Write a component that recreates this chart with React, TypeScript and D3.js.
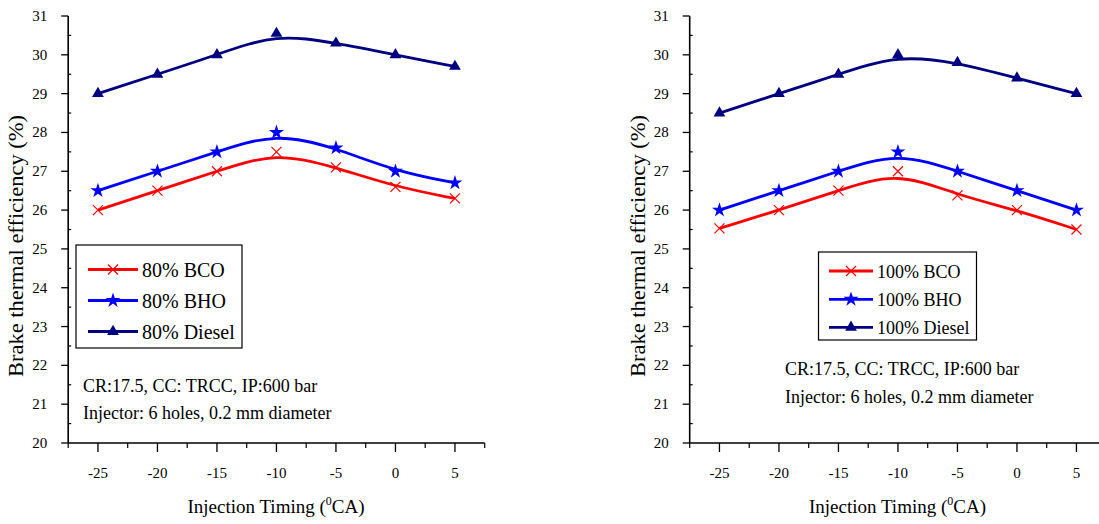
import React from "react";
import * as d3 from "d3";

const timings = [-25, -20, -15, -10, -5, 0, 5];
const xTickValues = [-25, -20, -15, -10, -5, 0, 5];
const yTickValues = [20, 21, 22, 23, 24, 25, 26, 27, 28, 29, 30, 31];

const bco80 = [26.0, 26.5, 27.0, 27.5, 27.1, 26.6, 26.3];
const bho80 = [26.5, 27.0, 27.5, 28.0, 27.6, 27.0, 26.7];
const diesel80 = [29.0, 29.5, 30.0, 30.55, 30.3, 30.0, 29.7];

const bco100 = [25.53, 26.0, 26.5, 27.0, 26.38, 26.0, 25.5];
const bho100 = [26.0, 26.5, 27.0, 27.5, 27.0, 26.5, 26.0];
const diesel100 = [28.5, 29.0, 29.5, 30.0, 29.8, 29.4, 29.0];

const labels80 = ["80% BCO", "80% BHO", "80% Diesel"];
const labels100 = ["100% BCO", "100% BHO", "100% Diesel"];

const annotLines = ["CR:17.5, CC: TRCC, IP:600 bar", "Injector: 6 holes, 0.2 mm diameter"];

const COLORS = ["#ff0000", "#0000ff", "#000080"];
const MARKERS = ["cross", "star", "triangle"];
const FONT = "Liberation Serif, Tinos, Times New Roman, Times, serif";

function Marker({ type, x, y, color }: { type: string; x: number; y: number; color: string }) {
  if (type === "cross") {
    const r = 5;
    return (
      <path
        d={`M${x - r},${y - r}L${x + r},${y + r}M${x - r},${y + r}L${x + r},${y - r}`}
        stroke={color}
        strokeWidth={1.2}
        fill="none"
      />
    );
  }
  const sym = type === "star" ? d3.symbolStar : d3.symbolTriangle;
  const size = type === "star" ? 70 : 60;
  return <path d={d3.symbol().type(sym).size(size)() as string} transform={`translate(${x},${y})`} fill={color} />;
}

type PanelProps = {
  x0: number;
  series: number[][];
  labels: string[];
  legend: { x: number; y: number; w: number; h: number; lineX1: number; lineX2: number; textX: number; rows: number[]; font: number };
  annot: { x: number; y1: number; y2: number };
  yTitleX: number;
  xTitleX: number;
};

const T = (props: any) => <text {...props} style={{ fontFamily: FONT }} />;

function Panel({ x0, series, labels, legend, annot, yTitleX, xTitleX }: PanelProps) {
  const x = d3.scaleLinear().domain([-27.5, 7.5]).range([x0, x0 + 416.5]);
  const y = d3.scaleLinear().domain([20, 31]).range([443, 16]);
  const line = d3
    .line<number>()
    .x((_, i) => x(timings[i]))
    .y((d) => y(d))
    .curve(d3.curveBasis);
  const minorX = d3.range(-27.5, 7.6, 5);
  const minorY = d3.range(20.5, 31, 1);
  const [xs, xe] = x.range();
  return (
    <g>
      {/* axes */}
      <line x1={xs} x2={xs} y1={y(31)} y2={y(20)} stroke="#000" strokeWidth={1.6} />
      <line x1={xs} x2={xe} y1={y(20)} y2={y(20)} stroke="#000" strokeWidth={1.6} />
      {yTickValues.map((v) => (
        <g key={"yt" + v}>
          <line x1={xs - 7} x2={xs} y1={y(v)} y2={y(v)} stroke="#000" strokeWidth={1.3} />
          <T x={xs - 21} y={y(v)} textAnchor="end" dominantBaseline="central" fontSize={15} fill="#000">
            {v}
          </T>
        </g>
      ))}
      {minorY.map((v) => (
        <line key={"ym" + v} x1={xs} x2={xs + 3} y1={y(v)} y2={y(v)} stroke="#000" strokeWidth={1.2} />
      ))}
      {xTickValues.map((v) => (
        <g key={"xt" + v}>
          <line x1={x(v)} x2={x(v)} y1={y(20)} y2={y(20) + 9} stroke="#000" strokeWidth={1.3} />
          <T x={x(v)} y={473} textAnchor="middle" dominantBaseline="central" fontSize={15} fill="#000">
            {v}
          </T>
        </g>
      ))}
      {minorX.map((v) => (
        <line key={"xm" + v} x1={x(v)} x2={x(v)} y1={y(20)} y2={y(20) + 5} stroke="#000" strokeWidth={1.2} />
      ))}
      {/* titles */}
      <T
        transform={`translate(${yTitleX},246) rotate(-90)`}
        textAnchor="middle"
        fontSize={20}
        textLength={262}
        lengthAdjust="spacingAndGlyphs"
        fill="#000"
      >
        Brake thermal efficiency (%)
      </T>
      <T x={xTitleX} y={513} textAnchor="middle" fontSize={19} fill="#000">
        Injection Timing (
        <tspan fontSize={12} dy={-8}>0</tspan>
        <tspan dy={8}>CA)</tspan>
      </T>
      {/* series */}
      {series.map((s, si) => (
        <g key={"s" + si}>
          <path d={line(s) as string} fill="none" stroke={COLORS[si]} strokeWidth={2.8} />
          {s.map((v, i) => (
            <Marker key={i} type={MARKERS[si]} x={x(timings[i])} y={y(v)} color={COLORS[si]} />
          ))}
        </g>
      ))}
      {/* legend */}
      <rect x={legend.x} y={legend.y} width={legend.w} height={legend.h} fill="#fff" stroke="#000" strokeWidth={1.2} />
      {labels.map((lab, i) => (
        <g key={"l" + i}>
          <line
            x1={legend.lineX1}
            x2={legend.lineX2}
            y1={legend.rows[i]}
            y2={legend.rows[i]}
            stroke={COLORS[i]}
            strokeWidth={2.8}
          />
          <Marker type={MARKERS[i]} x={(legend.lineX1 + legend.lineX2) / 2} y={legend.rows[i]} color={COLORS[i]} />
          <T x={legend.textX} y={legend.rows[i] + 7} fontSize={legend.font} fill="#000">
            {lab}
          </T>
        </g>
      ))}
      {/* annotation */}
      <T x={annot.x} y={annot.y1} fontSize={18} fill="#000">
        {annotLines[0]}
      </T>
      <T x={annot.x} y={annot.y2} fontSize={18} fill="#000">
        {annotLines[1]}
      </T>
    </g>
  );
}

export default function App() {
  return (
    <svg
      width={1099}
      height={524}
      viewBox="0 0 1099 524"
      style={{ position: "absolute", left: 0, top: 0, background: "#fff", fontFamily: FONT }}
    >
      <rect width={1099} height={524} fill="#fff" />
      <Panel
        x0={68.2}
        series={[bco80, bho80, diesel80]}
        labels={labels80}
        legend={{ x: 76, y: 245, w: 166, h: 103, lineX1: 88, lineX2: 138, textX: 142, rows: [269.5, 300.5, 331.5], font: 20 }}
        annot={{ x: 83, y1: 391.5, y2: 418.5 }}
        yTitleX={23}
        xTitleX={276}
      />
      <Panel
        x0={689.7}
        series={[bco100, bho100, diesel100]}
        labels={labels100}
        legend={{ x: 818.5, y: 252, w: 158, h: 88, lineX1: 829, lineX2: 873, textX: 877, rows: [271, 299.3, 327.3], font: 18 }}
        annot={{ x: 785, y1: 375, y2: 402.5 }}
        yTitleX={645}
        xTitleX={897.5}
      />
    </svg>
  );
}
